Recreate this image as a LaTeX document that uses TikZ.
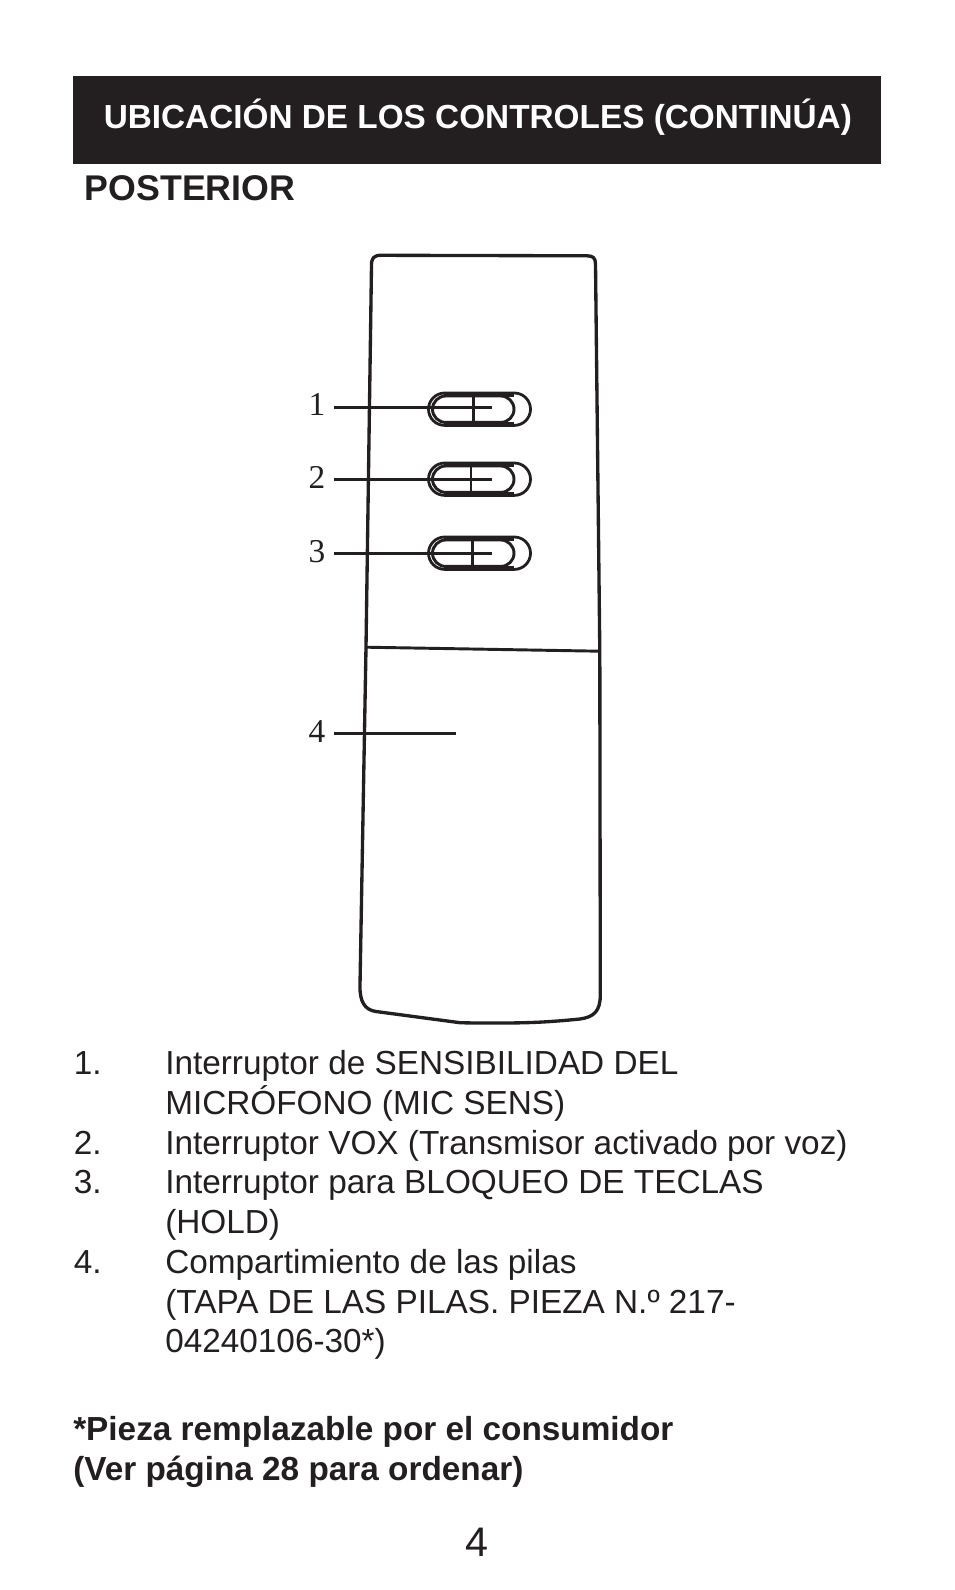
\documentclass[tikz,border=0pt]{standalone}
\usepackage{fontspec}
\setmainfont{Liberation Sans}
\newfontfamily\serifnum{Liberation Serif}
\definecolor{ink}{HTML}{231F20}
\newcommand{\switchpic}[2]{%
  \begin{scope}[shift={(0,#1)}]
    \draw[swline,line width=2.1pt,rounded corners=12.15pt] (428.5,0) rectangle (530.5,32.4);
    \draw[swline,line width=3.4pt] (444,1.6) -- (514,1.6) (444,30.8) -- (514,30.8);
    \draw[swline,rounded corners=9.9pt] (432.5,3) rectangle (514,29.4);
    \draw[swthin] (#2,2) -- (#2,30);
  \end{scope}}
\tikzset{
  x=0.75pt,y=-0.75pt,
  body/.style={anchor=base west,inner sep=0pt,text=ink,font=\fontsize{25pt}{28pt}\selectfont},
  boldtxt/.style={anchor=base west,inner sep=0pt,text=ink,font=\fontsize{25pt}{28pt}\selectfont\bfseries},
  callout/.style={anchor=base,inner sep=0pt,text=ink,font=\fontsize{25pt}{28pt}\selectfont\serifnum},
  leader/.style={draw=ink,line width=2pt},
  shell/.style={draw=ink,line width=2.5pt,line join=round},
  swline/.style={draw=ink,line width=2.2pt},
  swthin/.style={draw=ink,line width=1.8pt},
}
\begin{document}
\begin{tikzpicture}
\useasboundingbox (0,0) rectangle (954,1590);
\fill[ink] (73,76) rectangle (881,164);
\node[boldtxt,text=white] (title) at (103.5,129) {UBICACIÓN DE LOS CONTROLES (CONTINÚA)};
\node[boldtxt,font=\fontsize{26.8pt}{28pt}\selectfont\bfseries] (post) at (84.5,200.5) {POSTERIOR};
% remote shell
\draw[shell] (366,647) -- (371.5,265) .. controls (371.5,258) and (374,255.3) .. (381,255.3)
  -- (587,255.8) .. controls (593,255.8) and (595.5,258) .. (595.5,264)
  -- (599.8,651) -- (600.3,995) .. controls (600.3,1011) and (594,1017) .. (580,1019)
  .. controls (550,1022) and (530,1023) .. (500,1023) .. controls (480,1023) and (470,1023) .. (460,1022.7)
  -- (376,1011.5) .. controls (365,1010) and (359.5,1002) .. (360,985) -- (366,647) -- cycle;
\draw[shell,line width=2.2pt] (366,647.2) -- (599.8,651.2);
% switches
\switchpic{393}{473.3}
\switchpic{463}{470.7}
\switchpic{537}{472.3}
% callouts
\node[callout] (n1) at (317,415) {1};
\node[callout] (n2) at (317,488) {2};
\node[callout] (n3) at (317,562.5) {3};
\node[callout] (n4) at (317,742.5) {4};
\coordinate (a1) at (334,407.3); \coordinate (b1) at (491.7,407.3);
\coordinate (a2) at (334,479.3); \coordinate (b2) at (491.7,479.3);
\coordinate (a3) at (334,553.3); \coordinate (b3) at (491.7,553.3);
\coordinate (a4) at (334,733.3); \coordinate (b4) at (455.7,733.3);
\draw[leader] (a1) -- (b1);
\draw[leader] (a2) -- (b2);
\draw[leader] (a3) -- (b3);
\draw[leader] (a4) -- (b4);
% list
\node[body] (i1) at (73.5,1074.3) {1.};
\node[body] (t1) at (165,1074.3) {Interruptor de SENSIBILIDAD DEL};
\node[body] (t1b) at (165,1114.5) {MICRÓFONO (MIC SENS)};
\node[body] (i2) at (73.5,1154.5) {2.};
\node[body] (t2) at (165,1154.5) {Interruptor VOX (Transmisor activado por voz)};
\node[body] (i3) at (73.5,1193.7) {3.};
\node[body] (t3) at (165,1193.7) {Interruptor para BLOQUEO DE TECLAS};
\node[body] (t3b) at (165,1233.7) {(HOLD)};
\node[body] (i4) at (73.5,1273.7) {4.};
\node[body] (t4) at (165,1273.7) {Compartimiento de las pilas};
\node[body] (t4b) at (165,1313.2) {(TAPA DE LAS PILAS. PIEZA N.º 217-};
\node[body] (t4c) at (165,1352.7) {04240106-30*)};
\node[boldtxt] (f1) at (73,1440.5) {*Pieza remplazable por el consumidor};
\node[boldtxt] (f2) at (73,1480) {(Ver página 28 para ordenar)};
\node[body,anchor=base,font=\fontsize{31pt}{32pt}\selectfont] (pg) at (476.5,1556.5) {4};
\end{tikzpicture}
\end{document}
